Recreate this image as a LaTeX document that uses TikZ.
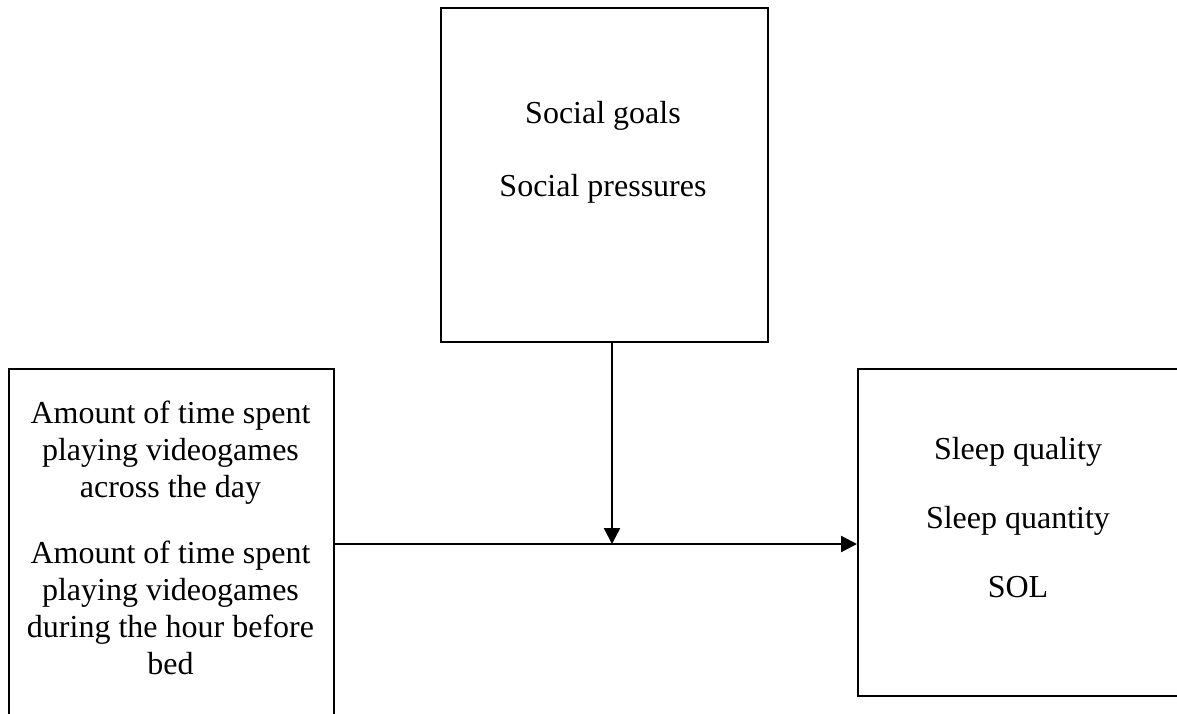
\documentclass[tikz,border=0pt]{standalone}
\usepackage{fontspec}
\setmainfont{Liberation Serif}
\usetikzlibrary{arrows.meta,positioning}
\tikzset{
  box/.style={draw, line width=1pt, inner sep=0pt},
  txt/.style={align=center, inner sep=0pt, font=\fontsize{16}{18.5}\selectfont},
  arr/.style={line width=1.2pt, -{Triangle[length=8pt,width=8pt]}}
}
\begin{document}
\begin{tikzpicture}[x=0.5pt,y=0.5pt]
		%%%%% START %%%%%
		\useasboundingbox (0,0) rectangle (1177,-713);
		\clip (0,0) rectangle (1177,-713);
		
		\node[box, minimum width=163.5pt, minimum height=167pt, anchor=north west] (social) at (440,-7) {};
		\node[box, minimum width=162.5pt, minimum height=196pt, anchor=north west] (play) at (8,-368) {};
		\node[box, minimum width=171.5pt, minimum height=163.5pt, anchor=north west] (sleep) at (857,-368) {};
		
		\node[txt] (socialtxt) at (603,-152) {Social goals\\[18pt]Social pressures};
		\node[txt] (playtxt) at (170.5,-538) {Amount of time spent\\playing videogames\\across the day\\[14.5pt]Amount of time spent\\playing videogames\\during the hour before\\bed};
		\node[txt] (sleeptxt) at (1018,-518) {Sleep quality\\[16pt]Sleep quantity\\[16pt]SOL};
		
		\coordinate (mid) at (612,-544);
		\draw[arr] (play.east |- mid) -- (sleep.west |- mid);
		\draw[arr] (social.south -| mid) -- (mid);
		%%%%% END %%%%%
\end{tikzpicture}
\end{document}
